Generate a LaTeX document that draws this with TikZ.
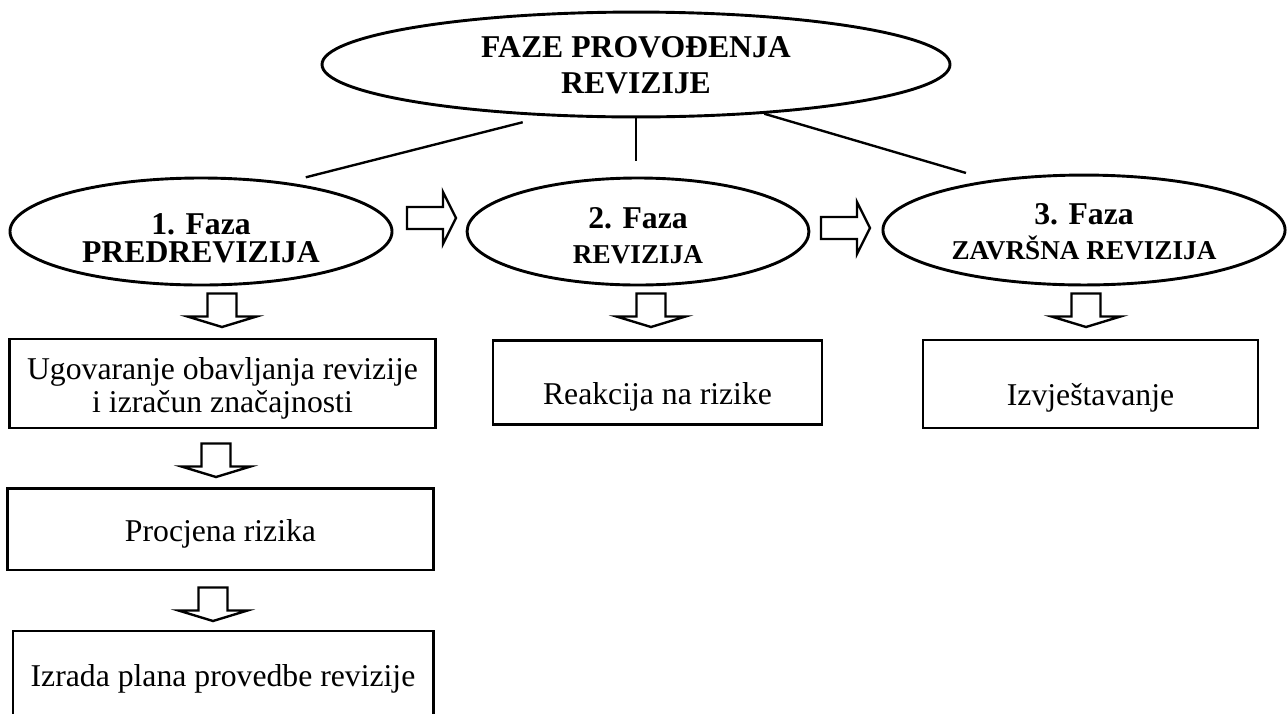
\documentclass[tikz,border=0pt]{standalone}
\usepackage{fontspec}
\setmainfont{Liberation Serif}
\usetikzlibrary{calc,shapes.geometric}

\tikzset{
  phase/.style={draw, ellipse, line width=1.1pt, inner sep=0pt, align=center},
  stepbox/.style={draw, rectangle, line width=1.1pt, inner sep=0pt, align=center,
    font=\fontsize{12}{12.5}\selectfont},
  link/.style={line width=0.9pt},
  fatarrow/.style={line width=0.9pt, line join=miter},
  downarr/.pic={\draw[fatarrow] (0,0) -- (-34.5,-10.5) -- (-14.5,-10.5) -- (-14.5,-33.5)
    -- (14.5,-33.5) -- (14.5,-10.5) -- (34.5,-10.5) -- cycle;},
  rightarr/.pic={\draw[fatarrow] (0,-11) -- (36,-11) -- (36,-26) -- (49,0)
    -- (36,26) -- (36,11) -- (0,11) -- cycle;}
}

\begin{document}
\begin{tikzpicture}[x=0.3785pt, y=-0.3785pt]
        \useasboundingbox (0,0) rectangle (1287,713);
        \clip (0,0) rectangle (1287,713);

        % main ellipse
        \node[phase, minimum width=237.7pt, minimum height=39.7pt, text height=24.6pt, text depth=3pt,
          font=\fontsize{12}{13.6}\selectfont\bfseries] (top) at (636,64.5) {FAZE PROVOĐENJA\\REVIZIJE};

        % phases
        \node[phase, minimum width=144.6pt, minimum height=40.5pt, text height=23.5pt, text depth=0.4pt,
          font=\fontsize{12}{10.6}\selectfont\bfseries] (f1) at (201,231.5) {1. Faza\\PREDREVIZIJA};
        \node[phase, minimum width=129.4pt, minimum height=40.5pt, text height=25.4pt, text depth=1.5pt,
          font=\fontsize{12}{13.25}\selectfont\bfseries] (f2) at (638,231.5)
          {2. Faza\\\fontsize{10.3}{13.25}\selectfont REVIZIJA};
        \node[phase, minimum width=152.2pt, minimum height=41.6pt, text height=25pt, text depth=2.3pt,
          font=\fontsize{12}{13.6}\selectfont\bfseries] (f3) at (1084,230)
          {3. Faza\\\fontsize{10.3}{13.6}\selectfont ZAVRŠNA REVIZIJA};

        % lines from the main ellipse
        \draw[link, shorten <=9.3pt, shorten >=7.6pt] (top.210) -- (f1.30);
        \draw[link, shorten >=6pt] (top.south) -- (top.south |- f2.north);
        \draw[link, shorten >=9.5pt] (top.339.4) -- (f3.152.3);

        % steps
        \node[stepbox, minimum width=160.9pt, text height=28pt, text depth=5.7pt] (b1) at (222.5,383.5)
          {Ugovaranje obavljanja revizije\\i izračun značajnosti};
        \node[stepbox, minimum width=160.9pt, text height=20.4pt, text depth=10.6pt] (b2) at (220.5,529) {Procjena rizika};
        \node[stepbox, minimum width=159pt, text height=21.2pt, text depth=20.1pt] (b3) at (223,685.5) {Izrada plana provedbe revizije};
        \node[stepbox, minimum width=124.5pt, text height=24.2pt, text depth=7.9pt] (b4) at (657.5,382.5) {Reakcija na rizike};
        \node[stepbox, minimum width=126.8pt, text height=24.6pt, text depth=8.7pt] (b5) at (1090.5,384) {Izvještavanje};

        % block arrows
        \pic at (407,218) {rightarr};
        \pic at (821,228) {rightarr};
        \pic at (222,327) {downarr};
        \pic at (651,327) {downarr};
        \pic at (1086,327) {downarr};
        \pic at (216,477) {downarr};
        \pic at (213,621) {downarr};
\end{tikzpicture}
\end{document}
